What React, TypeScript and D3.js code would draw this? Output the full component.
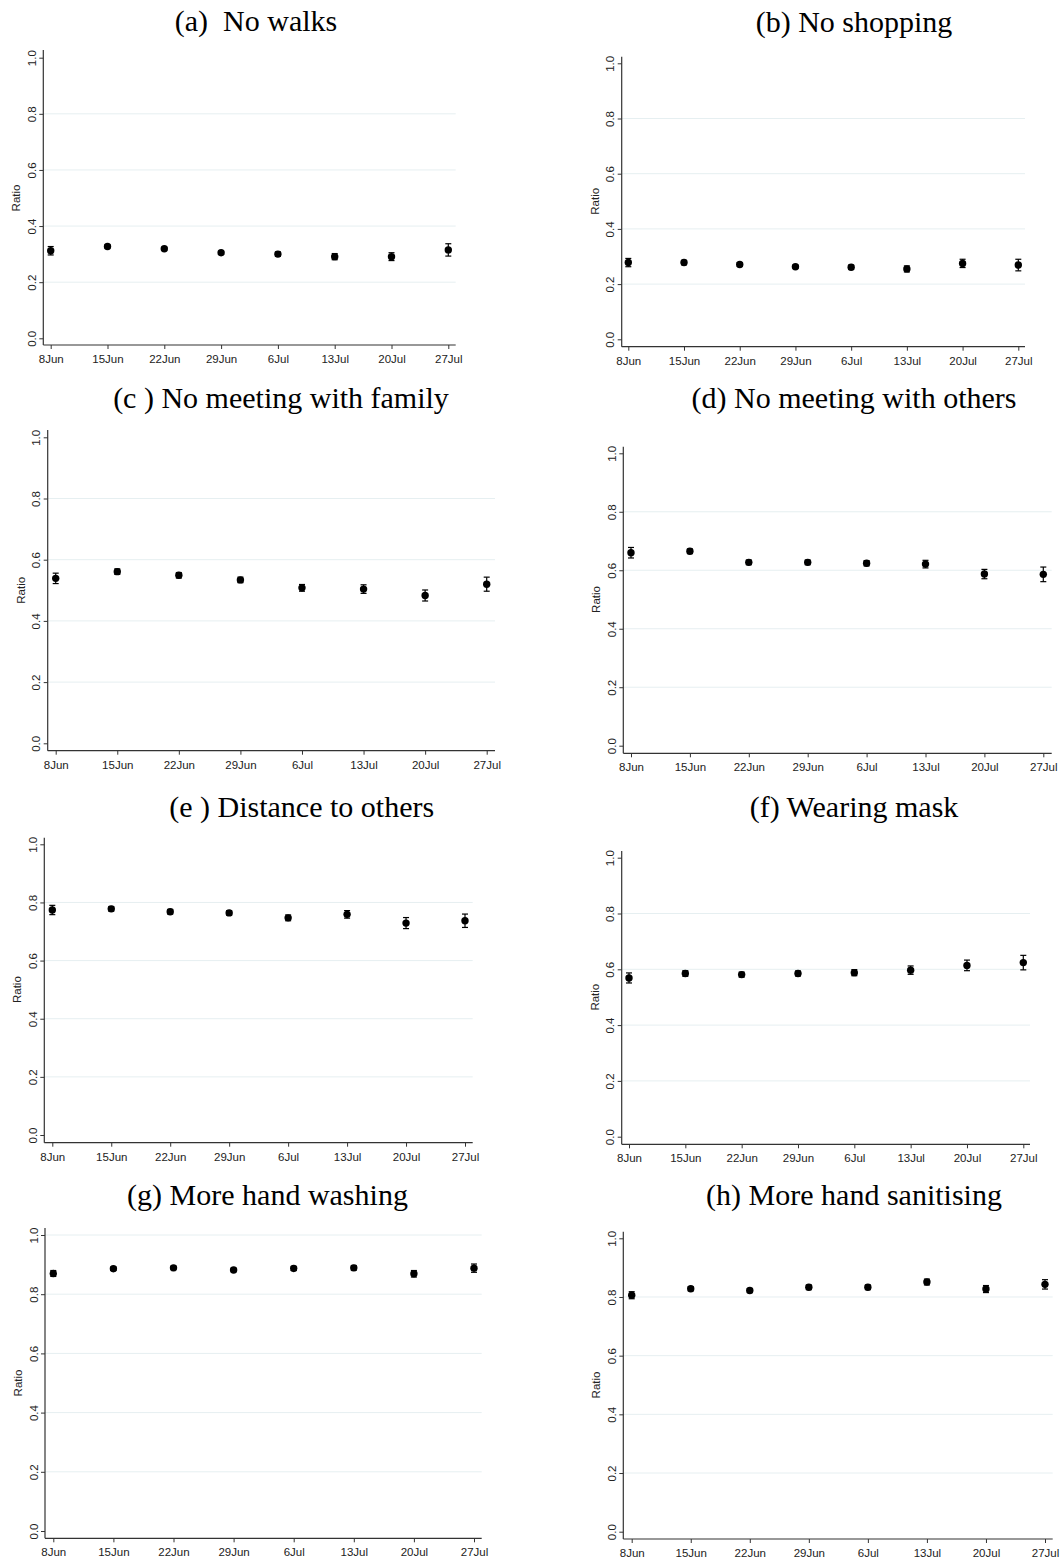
import React, { useEffect, useRef } from "react";
import * as d3 from "d3";

// weekly survey dates
const dates = ["2020-06-08", "2020-06-15", "2020-06-22", "2020-06-29", "2020-07-06", "2020-07-13", "2020-07-20", "2020-07-27"];
const xTickLabels = ["8Jun", "15Jun", "22Jun", "29Jun", "6Jul", "13Jul", "20Jul", "27Jul"];
const yTicks = [0, 0.2, 0.4, 0.6, 0.8, 1.0];

const titles = [
  "(a)  No walks",
  "(b) No shopping",
  "(c ) No meeting with family",
  "(d) No meeting with others",
  "(e ) Distance to others",
  "(f) Wearing mask",
  "(g) More hand washing",
  "(h) More hand sanitising",
];

// mean ratio and half-width of the confidence interval
const noWalks = [0.312, 0.327, 0.319, 0.305, 0.300, 0.291, 0.291, 0.315];
const noWalksErr = [0.015, 0.006, 0.005, 0.005, 0.008, 0.011, 0.014, 0.022];
const noShopping = [0.278, 0.278, 0.271, 0.263, 0.261, 0.255, 0.275, 0.269];
const noShoppingErr = [0.015, 0.008, 0.007, 0.006, 0.008, 0.011, 0.015, 0.021];
const noFamily = [0.539, 0.561, 0.549, 0.534, 0.508, 0.504, 0.483, 0.520];
const noFamilyErr = [0.017, 0.009, 0.009, 0.009, 0.011, 0.014, 0.018, 0.023];
const noOthers = [0.660, 0.665, 0.627, 0.627, 0.624, 0.621, 0.587, 0.586];
const noOthersErr = [0.018, 0.008, 0.008, 0.008, 0.009, 0.013, 0.016, 0.025];
const distance = [0.774, 0.778, 0.768, 0.764, 0.747, 0.759, 0.729, 0.737];
const distanceErr = [0.016, 0.008, 0.008, 0.008, 0.010, 0.013, 0.019, 0.023];
const mask = [0.569, 0.585, 0.581, 0.585, 0.588, 0.597, 0.614, 0.624];
const maskErr = [0.018, 0.010, 0.009, 0.009, 0.011, 0.015, 0.019, 0.026];
const handWash = [0.870, 0.886, 0.889, 0.882, 0.887, 0.889, 0.869, 0.888];
const handWashErr = [0.010, 0.006, 0.006, 0.006, 0.007, 0.008, 0.011, 0.014];
const sanitise = [0.806, 0.828, 0.822, 0.833, 0.833, 0.851, 0.827, 0.843];
const sanitiseErr = [0.012, 0.007, 0.007, 0.008, 0.008, 0.010, 0.012, 0.016];

const series = [noWalks, noShopping, noFamily, noOthers, distance, mask, handWash, sanitise];
const errors = [noWalksErr, noShoppingErr, noFamilyErr, noOthersErr, distanceErr, maskErr, handWashErr, sanitiseErr];

// panel geometry: axis x, first/last date x, axis right end, axis top, y(1), y(0), axis bottom, title pos
const layout = [
  { ax: 43.3, x0: 50.7, x1: 448.3, xr: 455.7, top: 50, y1: 57.7, y0: 338.3, bot: 345, tx: 256, ty: 31, grid1: false },
  { ax: 621.7, x0: 628.3, x1: 1018.3, xr: 1025, top: 56.7, y1: 63.3, y0: 339.3, bot: 346.7, tx: 854, ty: 32, grid1: false },
  { ax: 47.7, x0: 55.7, x1: 486.7, xr: 495, top: 430, y1: 437.3, y0: 743.3, bot: 750.7, tx: 281, ty: 408, grid1: false },
  { ax: 623.3, x0: 631, x1: 1043.3, xr: 1051.7, top: 446.7, y1: 453.3, y0: 745.7, bot: 753.3, tx: 854, ty: 408, grid1: false },
  { ax: 44.3, x0: 52.3, x1: 465, xr: 472.7, top: 837.7, y1: 844.3, y0: 1135, bot: 1142.7, tx: 301.7, ty: 816.7, grid1: false },
  { ax: 621.7, x0: 629, x1: 1023.3, xr: 1030, top: 851, y1: 857.7, y0: 1136.7, bot: 1144.3, tx: 854, ty: 816.7, grid1: false },
  { ax: 45, x0: 53.3, x1: 474, xr: 481.7, top: 1228, y1: 1235, y0: 1531, bot: 1538.3, tx: 267.5, ty: 1205, grid1: true },
  { ax: 623.3, x0: 631.7, x1: 1045, xr: 1052.7, top: 1231.7, y1: 1238.3, y0: 1531.7, bot: 1539, tx: 854, ty: 1205, grid1: false },
];

const sans = "'Liberation Sans', Arial, sans-serif";
const serif = "'Liberation Serif', 'Times New Roman', serif";

const App = () => {
  const svgRef = useRef(null);

  useEffect(() => {
    const svg = d3.select(svgRef.current);
    svg.selectAll("*").remove();
    const parse = d3.timeParse("%Y-%m-%d");
    const dateVals = dates.map((d) => parse(d));

    layout.forEach((L, p) => {
      const x = d3.scaleTime().domain([dateVals[0], dateVals[dateVals.length - 1]]).range([L.x0, L.x1]);
      const y = d3.scaleLinear().domain([0, 1]).range([L.y0, L.y1]);
      const g = svg.append("g");

      // title
      g.append("text")
        .attr("x", L.tx)
        .attr("y", L.ty)
        .attr("text-anchor", "middle")
        .style("font-family", serif)
        .style("font-size", "30px")
        .style("white-space", "pre")
        .attr("fill", "#000")
        .text(titles[p]);

      // grid lines
      const gridVals = yTicks.filter((v) => v > 0 && (v < 1 || L.grid1));
      g.selectAll(".grid")
        .data(gridVals)
        .enter()
        .append("line")
        .attr("x1", L.ax)
        .attr("x2", L.xr)
        .attr("y1", (d) => y(d))
        .attr("y2", (d) => y(d))
        .attr("stroke", "#e6eff1")
        .attr("stroke-width", 1);

      // y axis
      const yAxis = g.append("g")
        .attr("transform", `translate(${L.ax},0)`)
        .call(d3.axisLeft(y).tickValues(yTicks).tickFormat(d3.format(".1f")).tickSize(4).tickSizeOuter(0));
      yAxis.select(".domain").remove();
      yAxis.selectAll("line").attr("stroke", "#333");
      yAxis.selectAll("text")
        .attr("transform", "rotate(-90)")
        .attr("x", 0)
        .attr("y", -7.5)
        .attr("dy", 0)
        .attr("text-anchor", "middle")
        .style("font-family", sans)
        .style("font-size", "11.5px")
        .attr("fill", "#222");

      // x axis
      const xAxis = g.append("g")
        .attr("transform", `translate(0,${L.bot})`)
        .call(d3.axisBottom(x).tickValues(dateVals).tickFormat((_, i) => xTickLabels[i]).tickSize(4).tickPadding(6).tickSizeOuter(0));
      xAxis.select(".domain").remove();
      xAxis.selectAll("line").attr("stroke", "#333");
      xAxis.selectAll("text")
        .style("font-family", sans)
        .style("font-size", "11.5px")
        .attr("fill", "#222");

      // axis lines
      g.append("line").attr("x1", L.ax).attr("x2", L.ax).attr("y1", L.top).attr("y2", L.bot).attr("stroke", "#333").attr("stroke-width", 1.2);
      g.append("line").attr("x1", L.ax).attr("x2", L.xr).attr("y1", L.bot).attr("y2", L.bot).attr("stroke", "#333").attr("stroke-width", 1.2);

      // y title
      g.append("text")
        .attr("transform", `translate(${L.ax - 23},${(L.y0 + L.y1) / 2}) rotate(-90)`)
        .attr("text-anchor", "middle")
        .style("font-family", sans)
        .style("font-size", "11.5px")
        .attr("fill", "#222")
        .text("Ratio");

      const pts = series[p].map((v, i) => ({ d: dateVals[i], v, e: errors[p][i] }));

      // error bars
      const eb = g.selectAll(".eb").data(pts).enter().append("g");
      eb.append("line")
        .attr("x1", (d) => x(d.d)).attr("x2", (d) => x(d.d))
        .attr("y1", (d) => y(d.v - d.e)).attr("y2", (d) => y(d.v + d.e))
        .attr("stroke", "#000").attr("stroke-width", 1.2);
      [1, -1].forEach((s) => {
        eb.append("line")
          .attr("x1", (d) => x(d.d) - 3).attr("x2", (d) => x(d.d) + 3)
          .attr("y1", (d) => y(d.v + s * d.e)).attr("y2", (d) => y(d.v + s * d.e))
          .attr("stroke", "#000").attr("stroke-width", 1.2);
      });

      // points
      g.selectAll(".pt")
        .data(pts)
        .enter()
        .append("circle")
        .attr("cx", (d) => x(d.d))
        .attr("cy", (d) => y(d.v))
        .attr("r", 3.7)
        .attr("fill", "#000");
    });
  }, []);

  return (
    <svg
      ref={svgRef}
      width={1062}
      height={1564}
      style={{ position: "absolute", left: 0, top: 0, background: "#fff" }}
    ></svg>
  );
};

export default App;
